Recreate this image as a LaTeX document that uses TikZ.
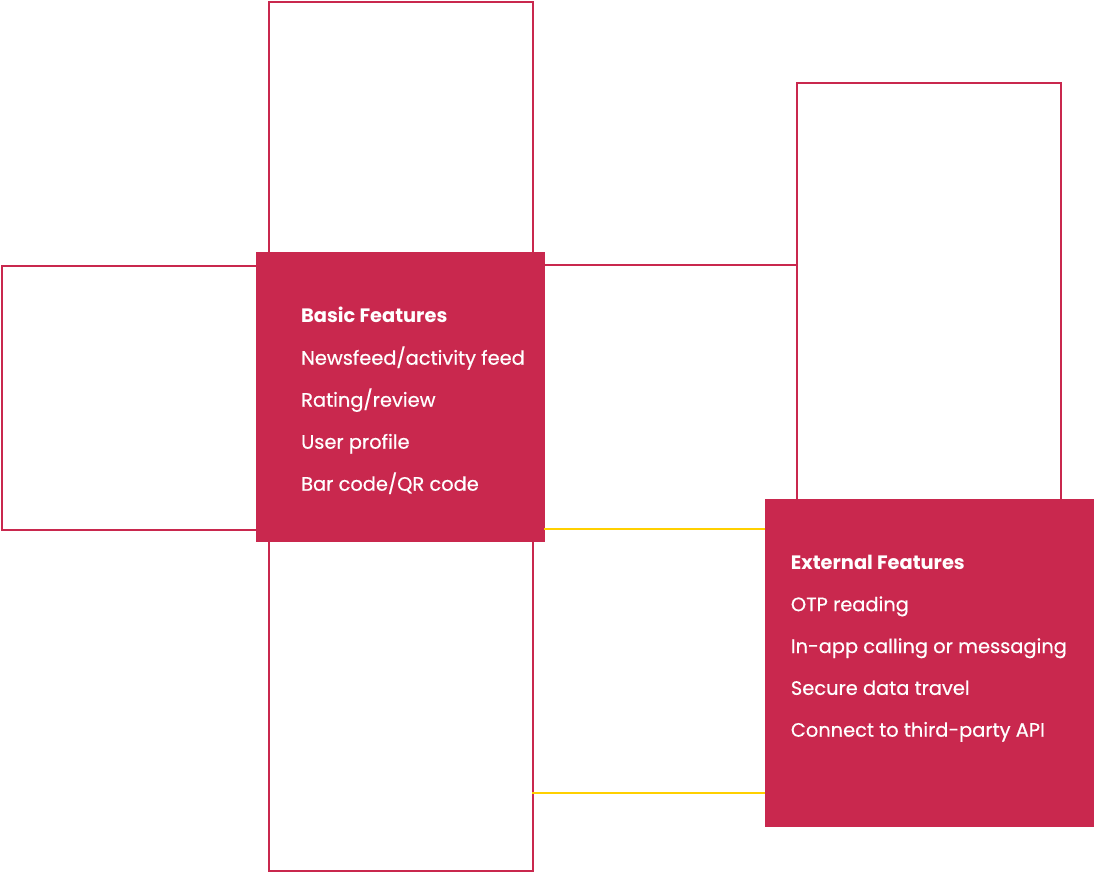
\documentclass[tikz,border=0pt]{standalone}
\usepackage{fontspec}
\setmainfont{Poppins}
\newfontfamily\itemfont{Poppins}[FakeBold=0.5]
\usepackage{tikz}
\usetikzlibrary{positioning}

\definecolor{crimson}{RGB}{201,40,78}
\definecolor{gold}{RGB}{255,208,0}

\tikzset{
  outline/.style={draw=crimson,line width=2pt,rectangle,inner sep=0pt,anchor=north west},
  featbox/.style={fill=crimson,rectangle,inner sep=0pt,anchor=north west},
  featitem/.style={text=white,anchor=base west,inner sep=0pt,font=\itemfont\fontsize{19.4}{21}\selectfont},
  feathead/.style={featitem,font=\fontsize{19.4}{21}\selectfont\bfseries},
  redlink/.style={draw=crimson,line width=2pt},
  goldlink/.style={draw=gold,line width=2pt}
}

\begin{document}
\begin{tikzpicture}[x=1pt,y=-1pt]
  \useasboundingbox (0,0) rectangle (1094,872);

  % Outline frames
  \node[outline,minimum width=264pt,minimum height=262pt] (topframe) at (268,1) {};
  \node[outline,minimum width=266pt,minimum height=264pt] (leftframe) at (1,265) {};
  \node[outline,minimum width=264pt,minimum height=334pt] (bottomframe) at (268,536) {};
  \node[outline,minimum width=264pt,minimum height=425pt] (rightframe) at (796,82) {};

  % Connectors
  \coordinate (basicR) at (544,265);
  \draw[redlink] (basicR) -- (rightframe.west |- basicR);
  \coordinate (basicY) at (544,529);
  \coordinate (bottomY) at (532,793);

  % Feature boxes
  \node[featbox,minimum width=289pt,minimum height=290pt] (basic) at (255.5,252) {};
  \node[featbox,minimum width=329pt,minimum height=328pt] (external) at (765,499) {};

  \draw[goldlink] (basicY) -- (external.west |- basicY);
  \draw[goldlink] (bottomY) -- (external.west |- bottomY);

  % Basic Features
  \node[feathead] (basichead) at (301,322.7) {Basic Features};
  \foreach \txt [count=\i] in {Newsfeed/activity feed,Rating/review,User profile,Bar code/QR code}
    \node[featitem] (basic\i) at (301,322.7+42*\i) {\txt};

  % External Features
  \node[feathead] (externalhead) at (790.7,569.3) {External Features};
  \foreach \txt [count=\i] in {OTP reading,In-app calling or messaging,Secure data travel,Connect to third-party API}
    \node[featitem] (external\i) at (790.7,569.3+41.85*\i) {\txt};
\end{tikzpicture}
\end{document}
